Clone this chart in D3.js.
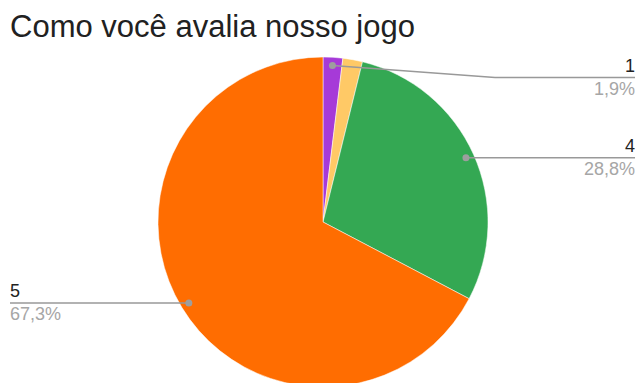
<!DOCTYPE html>
<html>
<head>
<meta charset="utf-8">
<script src="https://cdn.jsdelivr.net/npm/d3@7"></script>
<style>
  html, body { margin: 0; padding: 0; background: #fff; }
  svg { display: block; font-family: Arial, "Liberation Sans", sans-serif; }
</style>
</head>
<body>
<svg id="chart" width="640" height="383"></svg>
<script>
// Survey answers: rating and number of responses
const ratings = ["1", "3", "4", "5"];
const responses = [1, 1, 15, 35];
const sliceColors = ["#a63ad8", "#ffc966", "#34a853", "#ff6d01"];
const labelled = [true, false, true, true];
const title = "Como você avalia nosso jogo";

const width = 640, height = 383;
const cx = 323, cy = 222, radius = 165;

const svg = d3.select("#chart");

svg.append("text")
  .attr("x", 10)
  .attr("y", 37)
  .attr("font-size", 31)
  .attr("fill", "#212121")
  .text(title);

const data = ratings.map((r, i) => ({ rating: r, value: responses[i], color: sliceColors[i], show: labelled[i] }));
const total = d3.sum(responses);

const pie = d3.pie().value(d => d.value).sort(null);
const arcs = pie(data);
const arc = d3.arc().innerRadius(0).outerRadius(radius);
const anchorArc = d3.arc().innerRadius(radius * 0.95).outerRadius(radius * 0.95);

const g = svg.append("g").attr("transform", `translate(${cx},${cy})`);

g.selectAll("path.slice")
  .data(arcs)
  .join("path")
  .attr("class", "slice")
  .attr("d", arc)
  .attr("fill", d => d.data.color)
  .attr("stroke", "#fff")
  .attr("stroke-width", 0.5);

const fmt = v => d3.format(".1f")(v).replace(".", ",") + "%";

const labelG = svg.append("g");
const rightEdge = 635, leftEdge = 10, topLine = 77.5;

arcs.filter(d => d.data.show).forEach(d => {
  const [ax, ay] = anchorArc.centroid(d);
  const px = cx + ax, py = cy + ay;
  const right = px > cx;
  const lineY = right ? Math.max(py, topLine) : py;
  const endX = right ? rightEdge : leftEdge;
  const bendX = right ? Math.max(px, 495) : px;

  const pts = right && lineY !== py
    ? [[px, py], [bendX, lineY], [endX, lineY]]
    : [[px, py], [endX, lineY]];

  labelG.append("path")
    .attr("d", d3.line()(pts))
    .attr("fill", "none")
    .attr("stroke", "#999")
    .attr("stroke-width", 1.5);

  labelG.append("circle")
    .attr("cx", px).attr("cy", py).attr("r", 3.5)
    .attr("fill", "#9e9e9e");

  const anchor = right ? "end" : "start";
  labelG.append("text")
    .attr("x", endX).attr("y", lineY - 6)
    .attr("text-anchor", anchor)
    .attr("font-size", 18)
    .attr("fill", "#222")
    .text(d.data.rating);

  labelG.append("text")
    .attr("x", endX).attr("y", lineY + 17)
    .attr("text-anchor", anchor)
    .attr("font-size", 18)
    .attr("fill", "#a6a6a6")
    .text(fmt(d.data.value / total * 100));
});
</script>
</body>
</html>
